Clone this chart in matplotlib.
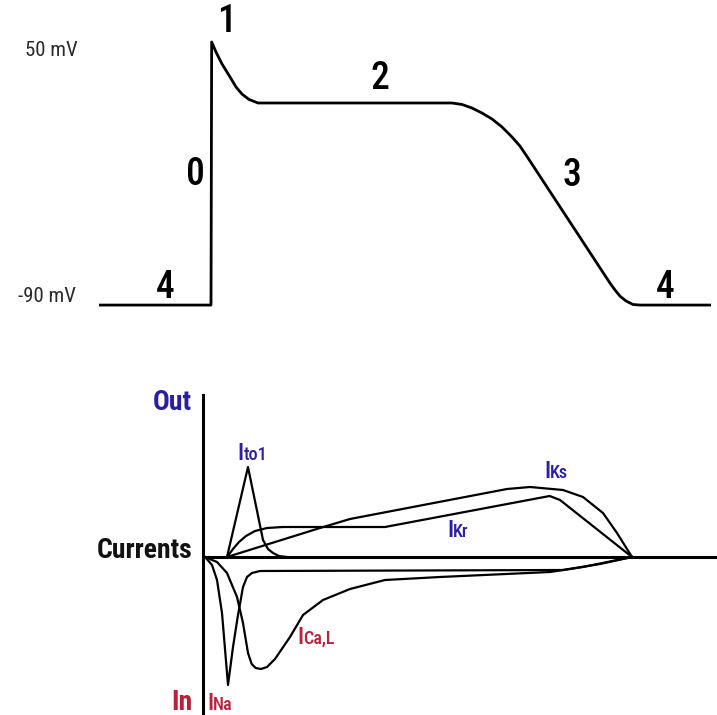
import matplotlib
matplotlib.use("Agg")
import matplotlib.pyplot as plt

# Condensed sans, close to the lettering of the original schematic
FONT = ['Roboto Condensed', 'DejaVu Sans']
BLUE = '#2a1f9e'
RED = '#b8223a'

# Action potential (time in ms, membrane potential in mV)
ap_t = [-83, 0, 0.5, 3.75, 8.25, 14.25, 18.75, 23.25, 28.5, 35.25, 180.75,
        188.25, 195.75, 203.25, 210.75, 218.25, 225.75, 231.75, 237.75,
        299.25, 303, 306.75, 311.25, 316.5, 321.75, 374]
ap_v = [-90, -90, 51.5, 46.1, 39.7, 32.7, 27.3, 23.5, 20.6, 18.7, 18.7,
        17.9, 16.0, 13.3, 10.1, 5.8, 0.4, -4.5, -10.9,
        -78.2, -81.9, -85.2, -87.8, -89.7, -90, -90]

# Phase labels
phase_names = ['0', '1', '2', '3', '4', '4']
phase_t = [-12, 12, 126.75, 270.75, -34.5, 340.5]
phase_v = [-19.5, 62.3, 32.1, -20.1, -80.3, -80.3]

# Ionic currents (arbitrary units, outward positive)
ito1_t = [12, 27.75, 39, 42.75, 46.5, 51, 57]
ito1_i = [0, 0.90, 0.17, 0.08, 0.04, 0.01, 0]

ikr_t = [12, 16.5, 21, 26.25, 33, 42, 54, 130.5, 254, 261.75, 315.75]
ikr_i = [0, 0.08, 0.15, 0.21, 0.26, 0.29, 0.30, 0.30, 0.61, 0.57, 0]

iks_t = [12, 81.75, 104.25, 222, 239.25, 264, 279, 294, 304.5, 315.75]
iks_i = [0, 0.29, 0.38, 0.68, 0.70, 0.67, 0.60, 0.44, 0.24, 0]

ina_t = [-4.5, 0.75, 4.5, 8.25, 12.75, 16.5, 20.25, 24, 27, 30.75, 36.75,
         264, 291.75, 315.75]
ina_i = [0, -0.08, -0.23, -0.56, -1.28, -0.90, -0.58, -0.30, -0.20, -0.16,
         -0.14, -0.13, -0.07, 0]

ical_t = [-4.5, 4.5, 12, 19.5, 24, 27.75, 30.5, 33.5, 37.5, 42, 48, 59.25,
          69, 84, 104.25, 130.5, 171.75, 254.25, 279, 315.75]
ical_i = [0, -0.05, -0.16, -0.40, -0.66, -0.96, -1.07, -1.11, -1.12, -1.10,
          -1.02, -0.80, -0.58, -0.43, -0.32, -0.23, -0.20, -0.15, -0.10, 0]

# Current labels: subscript, left x, baseline y, colour
cur_names = ['to1', 'Ks', 'Kr', 'Ca,L', 'Na']
cur_t = [19.5, 249.75, 177, 64.5, -3]
cur_y = [0.97, 0.79, 0.20, -0.87, -1.53]
cur_col = [BLUE, BLUE, BLUE, RED, RED]

fig = plt.figure(figsize=(7.17, 7.15), dpi=100)

# ---- top panel: action potential
ax1 = fig.add_axes([0, 1 - 335 / 715, 1, 335 / 715])
ax1.plot(ap_t, ap_v, color='k', lw=2.0, solid_joinstyle='round')
ax1.set_xlim(-158.25, 379.5)
ax1.set_ylim(-106.1, 74.1)
ax1.axis('off')

for name, t, v in zip(phase_names, phase_t, phase_v):
    ax1.text(t, v, name, fontsize=27, family=FONT, fontweight='medium',
             ha='center', va='center')

ax1.text(-120, 46.7, '50 mV', fontsize=15, family=FONT, ha='center',
         va='center', color='#2a2a2a')
ax1.text(-123, -85.2, '-90 mV', fontsize=15, family=FONT, ha='center',
         va='center', color='#2a2a2a')

# ---- bottom panel: currents
ax2 = fig.add_axes([0, 0, 1, 335 / 715])
ax2.set_xlim(-158.25, 379.5)
ax2.set_ylim(-1.58, 1.77)
ax2.axis('off')

# axes drawn by hand as in the schematic
ax2.plot([-6, -6], [1.62, -1.6], color='k', lw=2.2)
ax2.plot([-6, 380], [0, 0], color='k', lw=2.2)

for t, i in [(ito1_t, ito1_i), (ikr_t, ikr_i), (iks_t, iks_i),
             (ina_t, ina_i), (ical_t, ical_i)]:
    ax2.plot(t, i, color='k', lw=1.6, solid_joinstyle='round')

for sub, t, y, c in zip(cur_names, cur_t, cur_y, cur_col):
    ax2.annotate('I', (t, y), fontsize=17, family=FONT, fontweight='medium',
                 color=c, ha='left', va='baseline')
    ax2.annotate(sub, (t, y), xytext=(4.5, 0), textcoords='offset points',
                 fontsize=13, family=FONT, fontweight='medium', color=c,
                 ha='left', va='baseline')

ax2.text(-29.25, 1.54, 'Out', fontsize=20, family=FONT, fontweight='bold',
         color=BLUE, ha='center', va='center')
ax2.text(-14.25, 0.06, 'Currents', fontsize=20, family=FONT,
         fontweight='bold', color='#111111', ha='right', va='center')
ax2.text(-21.75, -1.45, 'In', fontsize=20, family=FONT, fontweight='bold',
         color=RED, ha='center', va='center')

plt.savefig('out.png', dpi=100)
